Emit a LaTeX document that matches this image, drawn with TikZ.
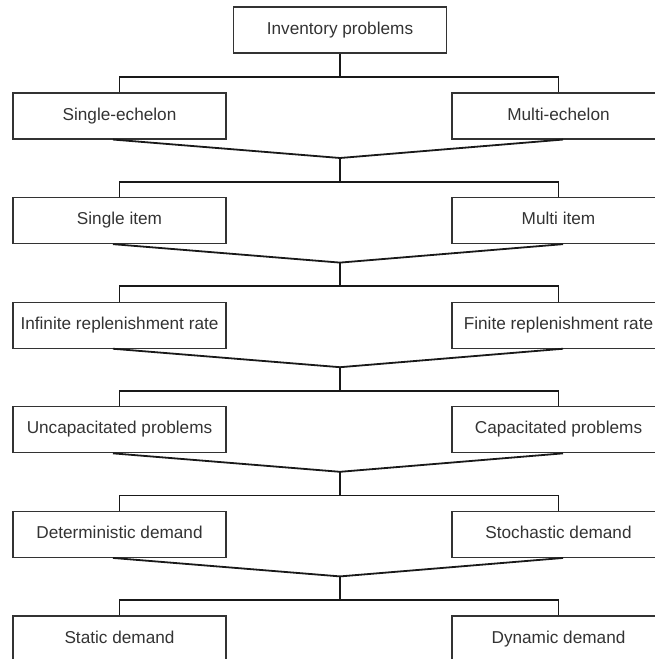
\documentclass[tikz,border=0pt]{standalone}
\usepackage{fontspec}
\setmainfont{Liberation Sans}
\usetikzlibrary{calc}
\begin{document}
\begin{tikzpicture}[x=1pt,y=-1pt,
  box/.style={draw=black!80, line width=1.1pt, minimum width=213pt,
    minimum height=46pt, inner sep=0pt, text height=0.9em, text depth=0.1em,
    font=\fontsize{17.2}{20}\selectfont, text=black!80},
  link/.style={line width=1.8pt, draw=black!90}]
\useasboundingbox (0,0) rectangle (655,659);
\clip (0,0) rectangle (655,659);

% root of the classification
\node[box] (top) at (340,30) {Inventory problems};

% the six binary splits, left and right alternatives
\foreach \i/\lt/\rt in {
  1/Single-echelon/Multi-echelon,
  2/Single item/Multi item,
  3/Infinite replenishment rate/Finite replenishment rate,
  4/Uncapacitated problems/Capacitated problems,
  5/Deterministic demand/Stochastic demand,
  6/Static demand/Dynamic demand}{
  \node[box] (L\i) at (119.5,{116+(\i-1)*104.6}) {\lt};
  \node[box] (R\i) at (558.5,{116+(\i-1)*104.6}) {\rt};
  \coordinate (b\i) at (340,{116+(\i-1)*104.6-39});
}

% root to first split
\draw[link] (top.south) -- (b1);
\draw[link] (L1.north) |- (b1) -| (R1.north);

% each pair merges and branches into the next pair
\foreach \i [evaluate=\i as \p using int(\i-1)] in {2,...,6}{
  \coordinate (c\i) at (340,{116+(\i-2)*104.6+42});
  \draw[link] ([xshift=-6.5pt]L\p.south) -- (c\i) -- ([xshift=4.5pt]R\p.south);
  \draw[link] (c\i) -- (b\i);
  \draw[link] (L\i.north) |- (b\i) -| (R\i.north);
}
\end{tikzpicture}
\end{document}
